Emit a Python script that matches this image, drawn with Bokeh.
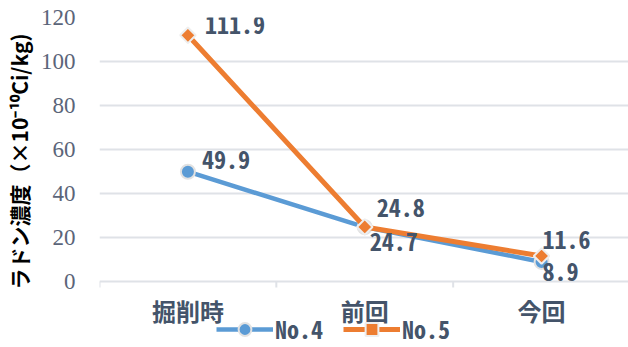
import math

from bokeh.embed import file_html
from bokeh.models import FixedTicker, Label, Legend, LegendItem, Range1d
from bokeh.plotting import figure
from bokeh.resources import INLINE

# --- data -------------------------------------------------------------
categories = ["掘削時", "前回", "今回"]
no4_values = [49.9, 24.7, 8.9]
no5_values = [111.9, 24.8, 11.6]
series_names = ["No.4", "No.5"]
y_ticks = [0, 20, 40, 60, 80, 100, 120]
y_title = "\u3000\u3000ラドン濃度（×10⁻¹⁰Ci/kg)"

# --- styling -----------------------------------------------------------
BLUE = "#5B9BD5"
ORANGE = "#ED7D31"
GRID = "#dfe2e7"
TEXT = "#44546a"
TICK_TEXT = "#5b6579"
MONO = "Noto Sans Mono CJK JP"
CJK = "Noto Sans CJK JP"

PX_PER_UNIT = 2.2          # vertical scale of the value axis
BOTTOM_ROOM_PX = 66        # room under the zero line for names and legend

# label offsets (pixels) next to each point: (dx, dy)
no4_offsets = [(14, 12), (5, -15), (1, -10)]
no5_offsets = [(17, 10), (12, 19), (1, 16)]

# each category sits in the middle of its slot
xs = [i + 0.5 for i in range(len(categories))]
bounds = list(range(len(categories) + 1))
slot_px = 177.5
frame_w = 531

p = figure(
    width=628, height=347,
    output_backend="svg", toolbar_location=None, x_axis_location=None,
    x_range=Range1d(0, frame_w / slot_px),
    y_range=Range1d(y_ticks[0] - BOTTOM_ROOM_PX / PX_PER_UNIT, y_ticks[-1]),
    min_border_left=97, min_border_right=0, min_border_top=17, min_border_bottom=0,
)
p.outline_line_color = None
p.background_fill_color = "white"
p.border_fill_color = "white"

# y axis: labels only, horizontal grid lines
p.yaxis.ticker = FixedTicker(ticks=y_ticks)
p.yaxis.axis_line_color = None
p.yaxis.major_tick_line_color = None
p.yaxis.minor_tick_line_color = None
p.yaxis.major_label_text_font = "Liberation Serif"
p.yaxis.major_label_text_font_size = "23px"
p.yaxis.major_label_text_color = TICK_TEXT
p.yaxis.major_label_standoff = 18
p.yaxis.axis_label = y_title
p.yaxis.axis_label_text_font = CJK
p.yaxis.axis_label_text_font_style = "bold"
p.yaxis.axis_label_text_font_size = "21px"
p.yaxis.axis_label_text_color = "black"
p.yaxis.axis_label_standoff = 4
p.ygrid.ticker = FixedTicker(ticks=y_ticks)
p.ygrid.grid_line_color = GRID
p.ygrid.grid_line_width = 2
p.xgrid.grid_line_color = None

# category scale under the zero line: boundary ticks and centred names
p.segment(x0=bounds, y0=0, x1=bounds, y1=-6 / PX_PER_UNIT,
          line_color=GRID, line_width=2)
p.text(x=xs, y=[-29 / PX_PER_UNIT] * len(xs), text=categories,
       text_font={"value": CJK}, text_font_style="bold", text_font_size="24px",
       text_color=TEXT, text_align="center", text_baseline="middle")

# series
l4 = p.line(xs, no4_values, line_color=BLUE, line_width=4.5)
s4 = p.scatter(xs, no4_values, marker="circle", size=14,
               fill_color=BLUE, line_color="#e2e2e2", line_width=2)
l5 = p.line(xs, no5_values, line_color=ORANGE, line_width=5)
s5 = p.scatter(xs, no5_values, marker="square", size=11, angle=math.pi / 4,
               fill_color=ORANGE, line_color="#eeeeee", line_width=2)

# value labels
for vals, offs in ((no4_values, no4_offsets), (no5_values, no5_offsets)):
    for x, v, (dx, dy) in zip(xs, vals, offs):
        p.add_layout(Label(
            x=x, y=v, text=f"{v}", x_offset=dx, y_offset=dy,
            text_font=MONO, text_font_style="bold", text_font_size="24px",
            text_color=TEXT, text_align="left", text_baseline="middle",
        ))

legend = Legend(
    items=[LegendItem(label=series_names[0], renderers=[l4, s4]),
           LegendItem(label=series_names[1], renderers=[l5, s5])],
    orientation="horizontal", location=(117, 1),
    glyph_width=57, glyph_height=32, label_standoff=2, spacing=20,
    padding=0, margin=0, border_line_color=None, background_fill_alpha=0,
    label_text_font=MONO, label_text_font_style="bold",
    label_text_font_size="24px", label_text_color=TEXT,
)
p.add_layout(legend, "center")

open("out.html", "w").write(file_html(p, INLINE))
